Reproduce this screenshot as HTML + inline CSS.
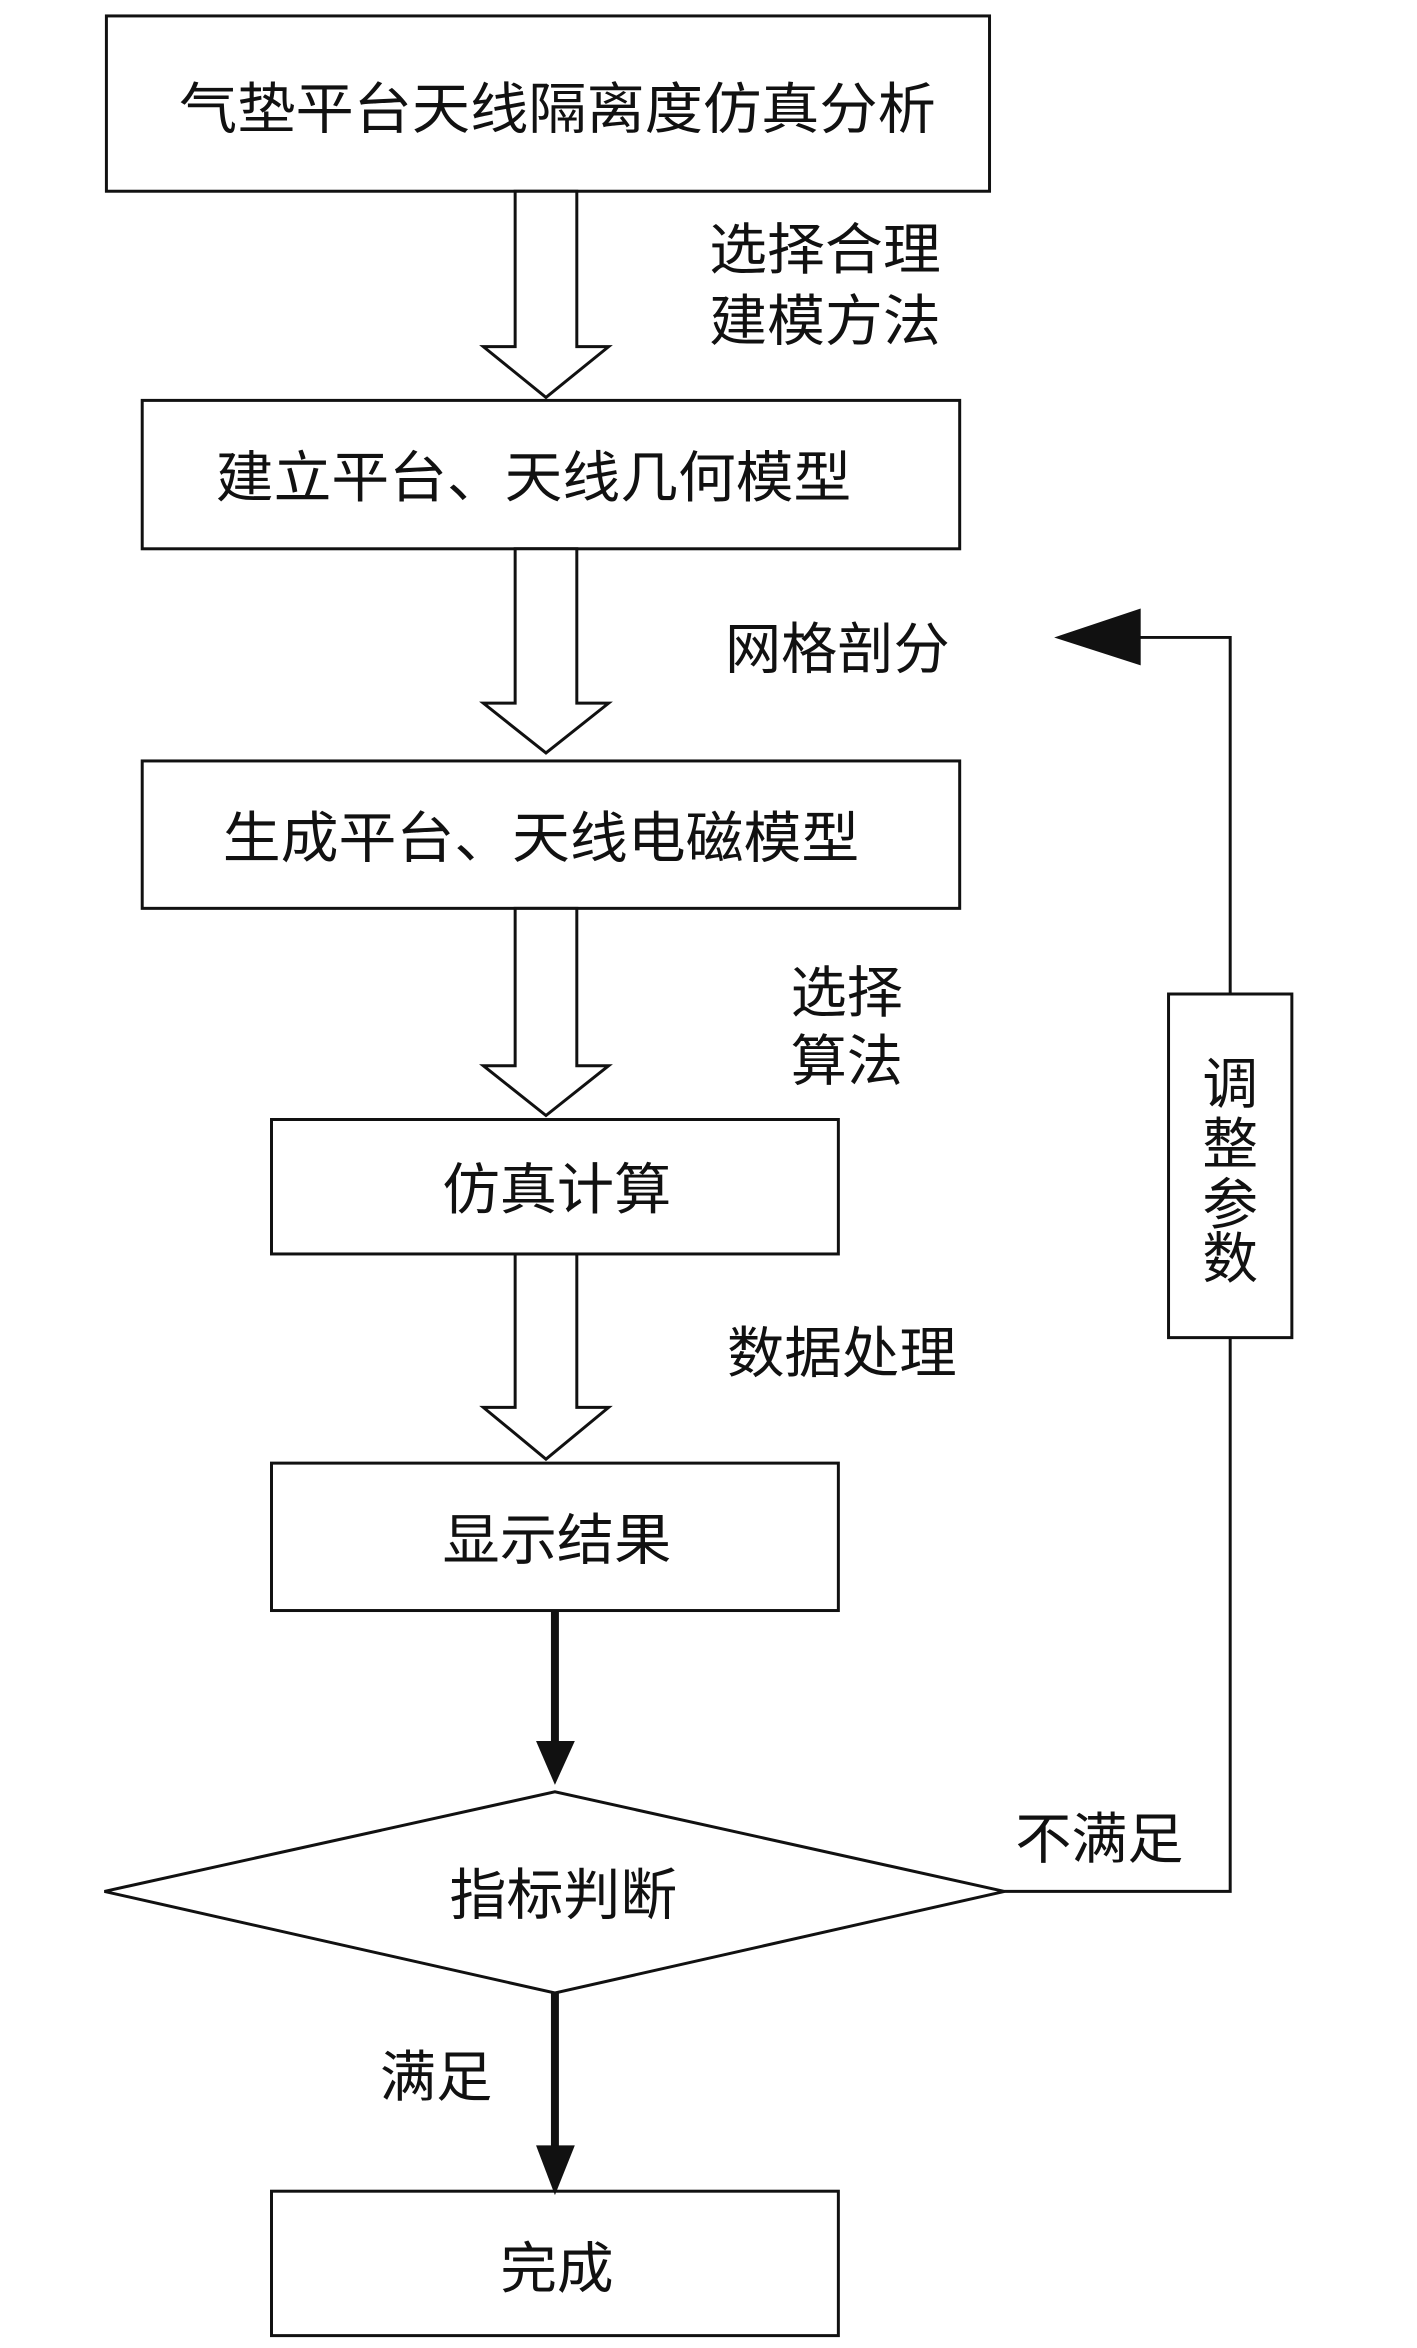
<!DOCTYPE html>
<html><head><meta charset="utf-8"><style>
html,body{margin:0;padding:0;background:#fff;}
svg{display:block;}
text{font-family:"Liberation Sans","Noto Sans CJK SC",sans-serif;font-size:56px;fill:#111;}
</style></head><body>
<svg width="1417" height="2348" viewBox="0 0 1417 2348" xmlns="http://www.w3.org/2000/svg">
<g transform="scale(0.9945,0.996)">
<g fill="none" stroke="#111" stroke-width="3">
<rect x="107" y="16" width="888" height="176"/>
<rect x="143" y="402" width="822" height="149"/>
<rect x="143" y="764" width="822" height="148"/>
<rect x="273" y="1124" width="570" height="135"/>
<rect x="273" y="1469" width="570" height="148"/>
<rect x="273" y="2200" width="570" height="145"/>
<rect x="1175" y="998" width="124" height="345"/>
<polygon points="105,1899 558,1799 1010,1899 558,2001"/>
<polygon fill="#fff" points="518,192 580,192 580,348 612,348 549,399 486,348 518,348"/>
<polygon fill="#fff" points="518,551 580,551 580,706 612,706 549,756 486,706 518,706"/>
<polygon fill="#fff" points="518,912 580,912 580,1070 612,1070 549,1120 486,1070 518,1070"/>
<polygon fill="#fff" points="518,1259 580,1259 580,1413 612,1413 549,1465 486,1413 518,1413"/>
<polyline points="1010,1899 1237,1899 1237,1343"/>
<polyline points="1237,998 1237,640 1145,640"/>
</g>
<polygon fill="#111" points="1147,611 1147,668 1060,640"/>
<line x1="558" y1="1617" x2="558" y2="1752" stroke="#111" stroke-width="8"/>
<polygon fill="#111" points="539,1748 578,1748 558,1792"/>
<line x1="558" y1="2001" x2="558" y2="2158" stroke="#111" stroke-width="8"/>
<polygon fill="#111" points="539,2154 578,2154 558,2204"/>
<text x="180" y="129" textLength="761" lengthAdjust="spacingAndGlyphs">气垫平台天线隔离度仿真分析</text>
<text x="713" y="270" textLength="233" lengthAdjust="spacingAndGlyphs">选择合理</text>
<text x="713" y="342" textLength="233" lengthAdjust="spacingAndGlyphs">建模方法</text>
<text x="217" y="499" textLength="639" lengthAdjust="spacingAndGlyphs">建立平台、天线几何模型</text>
<text x="729" y="671" textLength="226" lengthAdjust="spacingAndGlyphs">网格剖分</text>
<text x="224" y="861" textLength="640" lengthAdjust="spacingAndGlyphs">生成平台、天线电磁模型</text>
<text x="795" y="1016" textLength="113" lengthAdjust="spacingAndGlyphs">选择</text>
<text x="795" y="1085" textLength="113" lengthAdjust="spacingAndGlyphs">算法</text>
<text x="445" y="1214" textLength="230" lengthAdjust="spacingAndGlyphs">仿真计算</text>
<text x="731" y="1378" textLength="231" lengthAdjust="spacingAndGlyphs">数据处理</text>
<text x="445" y="1566" textLength="230" lengthAdjust="spacingAndGlyphs">显示结果</text>
<text x="452" y="1922" textLength="229" lengthAdjust="spacingAndGlyphs">指标判断</text>
<text x="1021" y="1866" textLength="169" lengthAdjust="spacingAndGlyphs">不满足</text>
<text x="382" y="2105" textLength="113" lengthAdjust="spacingAndGlyphs">满足</text>
<text x="503" y="2297" textLength="114" lengthAdjust="spacingAndGlyphs">完成</text>
<text x="1237" y="1108" text-anchor="middle">调</text>
<text x="1237" y="1168" text-anchor="middle">整</text>
<text x="1237" y="1229" text-anchor="middle">参</text>
<text x="1237" y="1283" text-anchor="middle">数</text>
</g>
</svg>
</body></html>
